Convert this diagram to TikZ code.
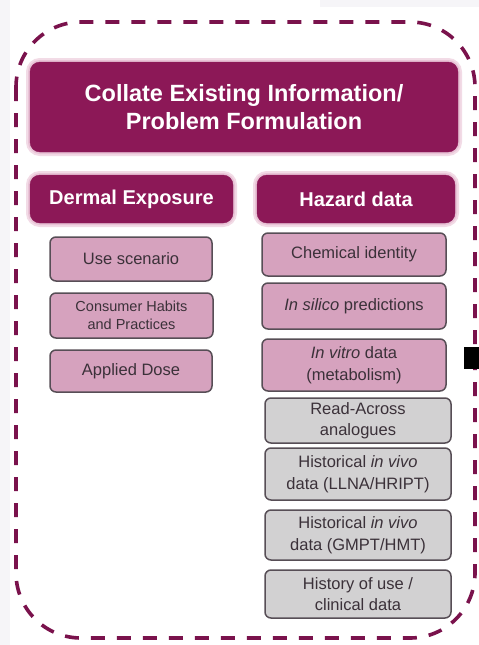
\documentclass[tikz,border=0pt]{standalone}
\usepackage{fontspec}
\setmainfont{Liberation Sans}
\definecolor{plum}{HTML}{8C1857}
\definecolor{plumline}{HTML}{7A124C}
\definecolor{halo}{HTML}{E9C3D6}
\definecolor{rosefill}{HTML}{D6A2BE}
\definecolor{greyfill}{HTML}{D2D1D2}
\definecolor{edge}{HTML}{574E56}
\definecolor{txt}{HTML}{3B3139}
\definecolor{paper}{HTML}{F6F5F8}
\tikzset{
  header/.style={fill=plum, draw=plum, rounded corners=10pt, text=white,
    font=\bfseries, align=center, inner sep=0pt,
    preaction={draw=halo!60, line width=8pt},
    preaction={draw=halo, line width=4pt}},
  itembox/.style={draw=edge, line width=1.5pt, rounded corners=6pt,
    text=txt, align=center, inner sep=0pt},
  rosebox/.style={itembox, fill=rosefill},
  greybox/.style={itembox, fill=greyfill},
  big/.style={font=\fontsize{16.5}{21.5}\selectfont},
}
\begin{document}
\begin{tikzpicture}[x=1pt,y=-1pt]
\useasboundingbox (0,0) rectangle (479,645);
% page margins
\fill[paper] (0,0) rectangle (10,645);
\fill[paper] (320,0) rectangle (479,7);

% dashed frame around the collection step
\draw[plumline, line width=3.6pt, dash pattern=on 14pt off 12pt, rounded corners=65pt]
  (16,22) rectangle (475,638);

% headers
\node[header, minimum width=428pt, minimum height=90pt,
      font=\bfseries\fontsize{23.5}{28}\selectfont] (collate) at (244,107)
  {Collate Existing Information/\\Problem Formulation};
\node[header, minimum width=203pt, minimum height=48pt,
      font=\bfseries\fontsize{20}{24}\selectfont] (dermal) at (131.5,199) {Dermal Exposure};
\node[header, minimum width=198pt, minimum height=48pt,
      font=\bfseries\fontsize{20}{24}\selectfont] (hazard) at (356,199) {Hazard data};

% exposure items
\node[rosebox, big, minimum width=162pt, minimum height=44pt] (use) at (131,259) {Use scenario};
\node[rosebox, minimum width=163pt, minimum height=45pt,
      font=\fontsize{14.5}{18}\selectfont] (habits) at (131.5,315.5) {Consumer Habits\\and Practices};
\node[rosebox, big, minimum width=162pt, minimum height=42pt] (dose) at (131,371) {Applied Dose};

% hazard items
\node[rosebox, big, minimum width=184pt, minimum height=43pt] (chem) at (354,254.5) {Chemical identity};
\node[rosebox, big, minimum width=184pt, minimum height=46pt] (silico) at (354,306) {\textit{In silico} predictions};
\node[rosebox, big, minimum width=184pt, minimum height=52pt] (vitro) at (354,365) {\textit{In vitro} data\\(metabolism)};
\node[greybox, big, minimum width=186pt, minimum height=45pt] (read) at (358,420.5) {Read-Across\\analogues};
\node[greybox, big, minimum width=186pt, minimum height=52pt] (llna) at (358,474) {Historical \textit{in vivo}\\data (LLNA/HRIPT)};
\node[greybox, big, minimum width=186pt, minimum height=50pt] (gmpt) at (358,535) {Historical \textit{in vivo}\\data (GMPT/HMT)};
\node[greybox, big, minimum width=186pt, minimum height=48pt] (usehist) at (358,594) {History of use /\\clinical data};

% black marker at the right edge
\fill[black] (464,347) rectangle (479,369);
\end{tikzpicture}
\end{document}
